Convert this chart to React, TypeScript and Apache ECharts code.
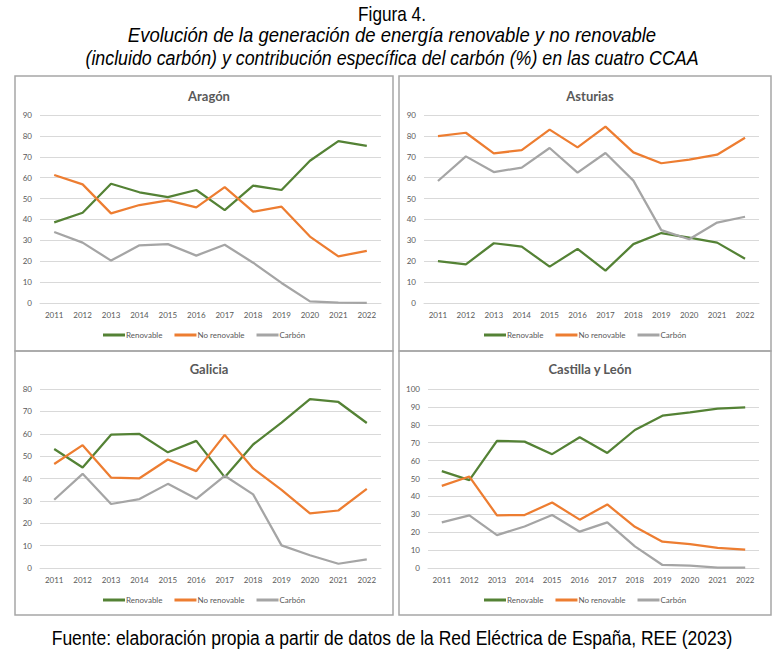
import React, { useEffect, useRef } from "react";
import * as echarts from "echarts";

const years = ["2011", "2012", "2013", "2014", "2015", "2016", "2017", "2018", "2019", "2020", "2021", "2022"];
const seriesNames = ["Renovable", "No renovable", "Carbón"];
const seriesColors = ["#548235", "#ED7D31", "#A5A5A5"];

const aragonRenovable = [38.6, 43.2, 57.1, 53.0, 50.7, 54.1, 44.5, 56.2, 54.1, 68.1, 77.5, 75.2];
const aragonNoRenovable = [61.3, 56.8, 42.9, 46.9, 49.1, 45.8, 55.5, 43.7, 46.1, 31.8, 22.3, 25.0];
const aragonCarbon = [34.0, 28.9, 20.3, 27.6, 28.2, 22.7, 27.9, 19.3, 9.6, 0.8, 0.2, 0.1];

const asturiasRenovable = [20.1, 18.5, 28.6, 27.0, 17.4, 25.9, 15.5, 28.2, 33.5, 31.3, 28.9, 21.2];
const asturiasNoRenovable = [79.9, 81.5, 71.6, 73.2, 83.0, 74.5, 84.4, 72.1, 66.9, 68.6, 71.0, 79.1];
const asturiasCarbon = [58.4, 70.2, 62.7, 64.8, 74.2, 62.4, 71.8, 58.6, 34.9, 30.5, 38.5, 41.3];

const galiciaRenovable = [53.2, 44.9, 59.6, 59.9, 51.7, 56.8, 40.6, 55.2, 65.0, 75.5, 74.2, 64.8];
const galiciaNoRenovable = [46.5, 54.9, 40.4, 40.1, 48.5, 43.3, 59.5, 44.5, 34.9, 24.4, 25.7, 35.4];
const galiciaCarbon = [30.5, 42.1, 28.6, 30.8, 37.6, 30.9, 41.2, 32.9, 10.1, 5.7, 1.9, 3.9];

const cylRenovable = [54.1, 49.1, 71.0, 70.6, 63.6, 73.0, 64.3, 77.1, 85.1, 87.0, 89.0, 89.8];
const cylNoRenovable = [45.9, 51.1, 29.4, 29.6, 36.6, 27.0, 35.5, 23.0, 14.7, 13.4, 11.2, 10.2];
const cylCarbon = [25.5, 29.4, 18.4, 23.2, 29.6, 20.3, 25.5, 12.1, 1.7, 1.3, 0.2, 0.2];

const panelTitles = ["Aragón", "Asturias", "Galicia", "Castilla y León"];
const panelMax = [90, 90, 80, 100];
const panelData = [
  [aragonRenovable, aragonNoRenovable, aragonCarbon],
  [asturiasRenovable, asturiasNoRenovable, asturiasCarbon],
  [galiciaRenovable, galiciaNoRenovable, galiciaCarbon],
  [cylRenovable, cylNoRenovable, cylCarbon],
];

const figureTitle = "Figura 4.";
const subtitle1 = "Evolución de la generación de energía renovable y no renovable";
const subtitle2 = "(incluido carbón) y contribución específica del carbón (%) en las cuatro CCAA";
const sourceText = "Fuente: elaboración propia a partir de datos de la Red Eléctrica de España, REE (2023)";

// layout
const panels = [
  { x: 15, y: 76, w: 378, h: 275 },
  { x: 399, y: 76, w: 372, h: 275 },
  { x: 15, y: 351, w: 378, h: 264 },
  { x: 399, y: 351, w: 372, h: 264 },
];
const grids = [
  { left: 40, top: 115, width: 341, height: 188 },
  { left: 424, top: 115, width: 335, height: 188 },
  { left: 40, top: 389, width: 341, height: 179 },
  { left: 428, top: 389, width: 331, height: 179 },
];
const titleY = [84, 84, 357, 357];
const legendY = [326, 326, 591, 591];

const FONT = "Lato, 'Open Sans', sans-serif";
const HEAD = "'Liberation Sans', Arial, sans-serif";

export default function App() {
  const ref = useRef<HTMLDivElement>(null);
  useEffect(() => {
    if (!ref.current) return;
    const chart = echarts.init(ref.current, null, { renderer: "svg" });
    const series: any[] = [];
    panelData.forEach((arr, p) => {
      arr.forEach((vals, s) => {
        series.push({
          type: "line",
          name: seriesNames[s],
          xAxisIndex: p,
          yAxisIndex: p,
          data: vals,
          symbol: "none",
          lineStyle: { color: seriesColors[s], width: 2.25 },
          itemStyle: { color: seriesColors[s] },
        });
      });
    });
    const headText = (text: string, y: number, size: number, sx: number, italic = false) => ({
      type: "text",
      x: 392,
      y,
      scaleX: sx,
      silent: true,
      style: {
        text,
        fontFamily: HEAD,
        fontSize: size,
        fontStyle: italic ? "italic" : "normal",
        fill: "#000",
        align: "center",
        verticalAlign: "middle",
      },
    });
    const option: any = {
      animation: false,
      backgroundColor: "#ffffff",
      title: panelTitles.map((t, i) => ({
        text: t,
        left: panels[i].x + panels[i].w / 2,
        top: titleY[i],
        textAlign: "center",
        textStyle: { fontFamily: FONT, fontSize: 13, fontWeight: "bold", color: "#595959" },
      })),
      legend: panelTitles.map((_, i) => ({
        data: seriesNames,
        left: panels[i].x + panels[i].w / 2 - 106,
        top: legendY[i],
        orient: "horizontal",
        itemWidth: 22,
        itemHeight: 3,
        itemGap: 12,
        icon: "rect",
        textStyle: { fontFamily: FONT, fontSize: 8, color: "#595959", padding: [0, 0, 0, -4] },
      })),
      grid: grids.map((g) => ({ ...g, containLabel: false })),
      xAxis: grids.map((_, i) => ({
        type: "category",
        gridIndex: i,
        data: years,
        boundaryGap: true,
        axisLine: { lineStyle: { color: "#d9d9d9" } },
        axisTick: { show: false },
        axisLabel: { fontFamily: FONT, fontSize: 8, color: "#595959", margin: 8 },
      })),
      yAxis: grids.map((_, i) => ({
        type: "value",
        gridIndex: i,
        min: 0,
        max: panelMax[i],
        interval: 10,
        axisLine: { show: false },
        axisTick: { show: false },
        splitLine: { lineStyle: { color: "#d9d9d9", width: 1 } },
        axisLabel: { fontFamily: FONT, fontSize: 8, color: "#595959", margin: 8 },
      })),
      graphic: [
        ...panels.map((p) => ({
          type: "rect",
          shape: { x: p.x, y: p.y, width: p.w, height: p.h },
          style: { fill: "none", stroke: "#a6a6a6", lineWidth: 1.5 },
          silent: true,
          z: 100,
        })),
        headText(figureTitle, 14, 20, 0.86),
        headText(subtitle1, 35, 20, 0.925, true),
        headText(subtitle2, 58, 20, 0.89, true),
        headText(sourceText, 638, 20, 0.875),
      ],
      series,
    };
    chart.setOption(option);
    return () => chart.dispose();
  }, []);
  return (
    <div
      ref={ref}
      style={{ position: "absolute", left: 0, top: 0, width: 784, height: 659, background: "#fff" }}
    />
  );
}
